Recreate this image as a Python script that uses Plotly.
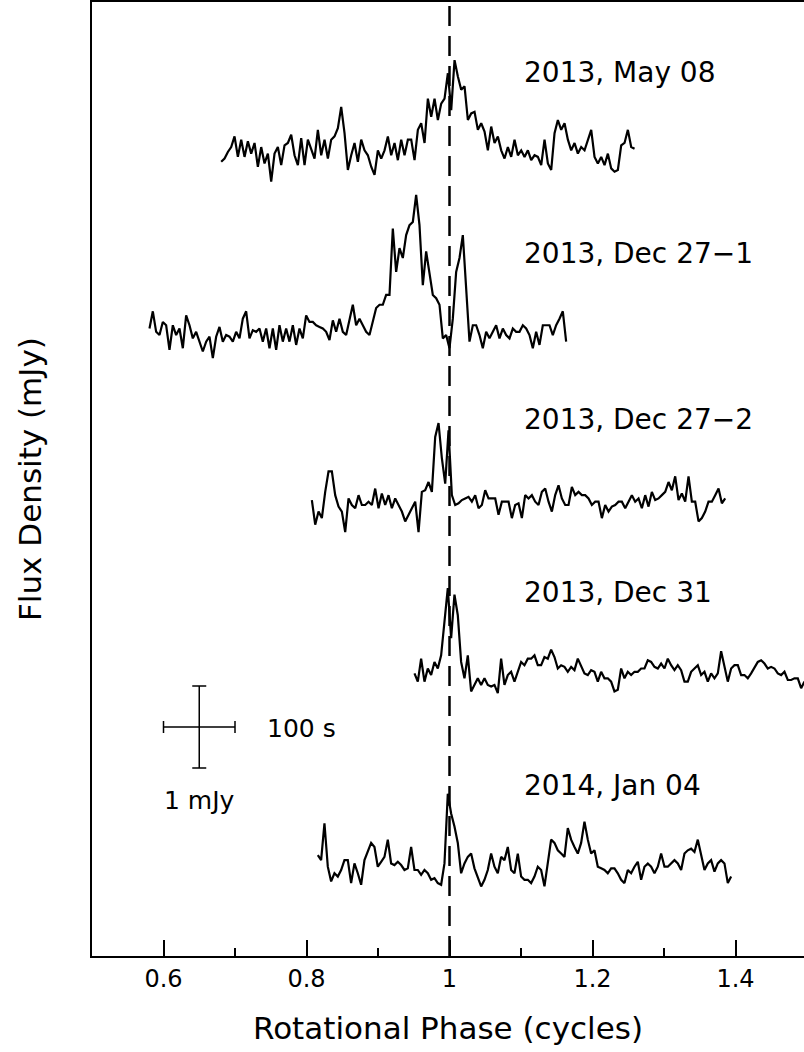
import plotly.graph_objects as go

# ---------------- data ----------------
phase_step = 0.004662  # cycles per sample

labels = ["2013, May 08", "2013, Dec 27\u22121", "2013, Dec 27\u22122", "2013, Dec 31", "2014, Jan 04"]
starts = [0.6807, 0.5804, 0.8075, 0.9510, 0.8158]
offsets = [9.585, 7.512, 5.50, 3.366, 1.049]   # vertical offsets (mJy)

may08 = [0.10, 0.14, 0.22, 0.28, 0.41, 0.16, 0.37, 0.16, 0.35, 0.20,
         0.33, 0.04, 0.28, 0.08, 0.20, -0.14, 0.20, 0.28, 0.06, 0.30,
         0.33, 0.43, 0.18, 0.06, 0.39, 0.06, 0.37, 0.24, 0.14, 0.49,
         0.18, 0.37, 0.14, 0.37, 0.41, 0.51, 0.77, 0.45, 0.00, 0.18,
         0.33, 0.10, 0.37, 0.24, 0.18, 0.04, -0.06, 0.24, 0.14, 0.24,
         0.41, 0.18, 0.33, 0.12, 0.37, 0.18, 0.37, 0.37, 0.12, 0.49,
         0.57, 0.33, 0.87,
         0.65, 0.87, 0.61, 0.81, 0.87, 1.18, 0.73, 1.34, 1.14, 0.98,
         1.02, 0.61, 0.69, 0.71, 0.49, 0.57, 0.47, 0.24, 0.53, 0.33,
         0.41, 0.24, 0.14, 0.28, 0.16, 0.37, 0.18, 0.24, 0.16, 0.24,
         0.12, 0.18, 0.16, 0.06, 0.37, 0.08, 0.00, 0.45, 0.61, 0.49,
         0.57, 0.37, 0.24, 0.33, 0.20, 0.28, 0.24, 0.37, 0.49, 0.16,
         0.08, 0.16, 0.06, 0.20, 0.02, -0.02, 0.00, 0.30, 0.33, 0.49,
         0.28, 0.26]

dec27_1 = [0.14, 0.35, 0.10, 0.06, 0.22, 0.18, -0.12, 0.18, 0.06, 0.14,
           -0.10, 0.30, 0.18, 0.02, 0.10, -0.02, -0.14, -0.02, 0.04, -0.22,
           0.04, 0.16, -0.02, 0.06, 0.04, -0.02, 0.10, 0.02, 0.26, 0.35,
           0.02, 0.12, 0.10, 0.14, -0.02, 0.14, -0.10, 0.14, -0.12, 0.18,
           -0.02, 0.14, -0.02, 0.18, -0.06, 0.14, 0.02, 0.30, 0.22, 0.22,
           0.18, 0.16, 0.14, 0.10, 0.00, 0.24, 0.10, 0.26, 0.10, 0.06,
           0.26, 0.43, 0.18, 0.26,
           0.18, 0.10, 0.06, 0.22, 0.39, 0.43, 0.43, 0.55, 0.55, 1.36,
           0.83, 1.12, 1.00, 1.28, 1.40, 1.44, 1.77, 1.40, 0.67, 1.08,
           0.79, 0.55, 0.51, 0.43, 0.02, 0.06, -0.10, 0.26, 0.83, 1.00,
           1.28, 0.59, -0.02, 0.18, 0.18, 0.06, -0.10, 0.10, 0.02, 0.10,
           0.18, 0.02, 0.14, 0.06, 0.02, 0.14, 0.10, 0.10, 0.18, 0.14,
           0.06, -0.10, 0.10, -0.06, 0.18, 0.18, 0.18, 0.06, 0.18, 0.26,
           0.35, -0.02]

dec27_2 = [0.06, -0.24, -0.08, -0.16, 0.16, 0.41, 0.41, 0.12, -0.02, -0.08,
           -0.33, 0.08, 0.00, -0.04, 0.12, 0.00, 0.00, 0.04, 0.00, 0.20,
           -0.04, 0.14, 0.00, 0.12, -0.04, 0.08, 0.00, -0.08, -0.20, -0.12,
           -0.04, 0.04, -0.33, 0.16, 0.18, 0.28, 0.16, 0.83, 1.00, 0.57,
           0.26, 0.91, 0.12, 0.00, 0.02, 0.06, 0.08, 0.10, 0.04, 0.12,
           -0.04, 0.00, 0.18, 0.08, 0.08, 0.08, -0.12, 0.04, 0.04, 0.04,
           -0.16, 0.00, 0.02,
           -0.16, 0.12, 0.08, 0.12, 0.04, 0.00, 0.16, 0.20, 0.04, -0.08,
           0.12, 0.24, 0.08, 0.00, 0.00, 0.22, 0.12, 0.16, 0.12, 0.12,
           0.08, 0.00, 0.04, 0.04, -0.16, 0.00, -0.08, -0.02, 0.00, 0.04,
           0.04, -0.04, 0.04, 0.12, 0.04, 0.08, -0.04, 0.12, -0.02, 0.16,
           0.06, 0.08, 0.12, 0.16, 0.28, 0.18, 0.35, 0.06, 0.14, 0.04,
           0.35, 0.04, 0.04, -0.20, -0.16, -0.08, 0.04, 0.04, 0.12, 0.20,
           0.02, 0.08]

dec31 = [0.08, -0.02, 0.26, -0.02, 0.14, 0.06, 0.22, 0.14, 0.30, 0.71,
         1.12, 0.51, 1.04, 0.79, 0.22, 0.02, 0.30, -0.14, -0.06, 0.02,
         -0.06, 0.02, -0.06, -0.08, -0.06, -0.16, 0.26, -0.06, 0.06, 0.10,
         -0.02, 0.10, 0.22, 0.18, 0.26, 0.26, 0.30, 0.18, 0.18, 0.28,
         0.26, 0.37, 0.28, 0.14, 0.18, 0.16, 0.10, 0.16, 0.12, 0.26,
         0.18, 0.08, 0.06, 0.12, 0.10, -0.02, 0.10, 0.02,
         0.02, -0.02, -0.14, -0.12, 0.14, 0.02, 0.10, 0.06, 0.10, 0.10,
         0.14, 0.14, 0.24, 0.22, 0.16, 0.14, 0.20, 0.14, 0.26, 0.18,
         0.12, 0.18, 0.12, -0.02, -0.02, 0.10, 0.14, 0.18, 0.06, 0.10,
         -0.02, 0.08, 0.02, 0.08, 0.35, 0.18, -0.02, 0.14, 0.18, 0.18,
         0.06, 0.06, 0.02, 0.08, 0.16, 0.22, 0.24, 0.20, 0.14, 0.16,
         0.14, 0.08, 0.06, 0.10, 0.00, 0.00, 0.02, 0.02, -0.10, -0.02]

jan04 = [0.18, 0.12, 0.57, 0.04, -0.14, -0.04, -0.08, 0.00, 0.12, 0.12,
         -0.16, 0.08, -0.04, -0.18, 0.12, 0.22, 0.33, 0.28, 0.04, 0.10,
         0.16, 0.37, 0.08, 0.06, 0.10, 0.06, 0.00, 0.02, 0.28, 0.00,
         0.00, -0.06, 0.00, -0.04, -0.12, -0.10, -0.16, -0.18, 0.08, 0.93,
         0.69, 0.53, 0.33, -0.04, 0.08, 0.16, 0.20, 0.02, -0.08, -0.20,
         -0.12, 0.00, 0.20, 0.04, -0.04, 0.16, 0.12, 0.28, 0.00, -0.04,
         0.20, -0.08, -0.12,
         -0.12, -0.16, -0.08, 0.04, 0.00, -0.20, 0.08, 0.37, 0.33, 0.24,
         0.20, 0.16, 0.51, 0.37, 0.28, 0.20, 0.33, 0.59, 0.37, 0.20,
         0.24, 0.04, 0.02, 0.00, -0.04, 0.02, 0.02, -0.04, -0.12, -0.16,
         0.00, -0.04, 0.04, 0.10, -0.12, 0.04, 0.08, 0.04, -0.04, 0.04,
         0.20, 0.04, 0.04, 0.08, 0.12, 0.08, 0.00, 0.20, 0.24, 0.26,
         0.22, 0.37, 0.20, 0.00, 0.08, 0.12, -0.02, 0.08, 0.12, 0.08,
         -0.16, -0.08]

series = [may08, dec27_1, dec27_2, dec31, jan04]

# scale bar: 100 s (=0.1 cycle) by 1 mJy
bar_phase = 0.65
bar_level = 2.793
bar_dx = 0.05
bar_dy = 0.5

x_ticks = [0.6, 0.8, 1.0, 1.2, 1.4]

# ---------------- figure ----------------
FONT = "DejaVu Sans"
fig = go.Figure()

for flux, start, off in zip(series, starts, offsets):
    xs = [start + i * phase_step for i in range(len(flux))]
    ys = [v + off for v in flux]
    fig.add_trace(go.Scatter(x=xs, y=ys, mode="lines",
                             line=dict(color="black", width=2.2),
                             hoverinfo="skip", showlegend=False))

fig.add_trace(go.Scatter(
    x=[bar_phase], y=[bar_level], mode="markers",
    marker=dict(size=1, color="black"),
    error_x=dict(type="constant", value=bar_dx, color="black", thickness=1.5, width=6),
    error_y=dict(type="constant", value=bar_dy, color="black", thickness=1.5, width=7),
    showlegend=False, hoverinfo="skip"))

fig.add_vline(x=1.0, line=dict(color="black", width=2.5, dash="20px,10px"))

label_x = 1.1008
label_y = [10.77, 8.573, 6.537, 4.439, 2.085]
for txt, ly in zip(labels, label_y):
    fig.add_annotation(x=label_x, y=ly, text=txt, showarrow=False,
                       xanchor="left", yanchor="middle",
                       font=dict(family=FONT, size=28, color="black"))

fig.add_annotation(x=0.793, y=2.78, text="100 s", showarrow=False,
                   xanchor="center", yanchor="middle",
                   font=dict(family=FONT, size=25, color="black"))
fig.add_annotation(x=0.650, y=1.90, text="1 mJy", showarrow=False,
                   xanchor="center", yanchor="middle",
                   font=dict(family=FONT, size=25, color="black"))

fig.add_annotation(xref="paper", yref="paper", x=0, y=0.5, xshift=-62,
                   text="Flux Density (mJy)", textangle=-90, showarrow=False,
                   xanchor="center", yanchor="middle",
                   font=dict(family=FONT, size=31, color="black"))

fig.update_layout(
    width=804, height=1052,
    margin=dict(l=92, r=0, t=2, b=96),
    paper_bgcolor="white", plot_bgcolor="white",
    xaxis=dict(range=[0.5, 1.4958], showgrid=False, zeroline=False,
               showline=True, linecolor="black", linewidth=2, mirror=True,
               tickvals=x_ticks, ticktext=["0.6", "0.8", "1", "1.2", "1.4"],
               ticks="inside", ticklen=16, tickwidth=1.5, tickcolor="black",
               minor=dict(tickvals=[0.7, 0.9, 1.1, 1.3], ticks="inside",
                          ticklen=8, tickwidth=1.5, tickcolor="black"),
               tickfont=dict(family=FONT, size=24, color="black"),
               title=dict(text="Rotational Phase (cycles)", standoff=26,
                          font=dict(family=FONT, size=31, color="black"))),
    yaxis=dict(range=[0, 11.634], showgrid=False, zeroline=False,
               showline=True, linecolor="black", linewidth=2, mirror=False,
               showticklabels=False, ticks=""),
)

fig.write_html("out.html", config={"displayModeBar": False})
